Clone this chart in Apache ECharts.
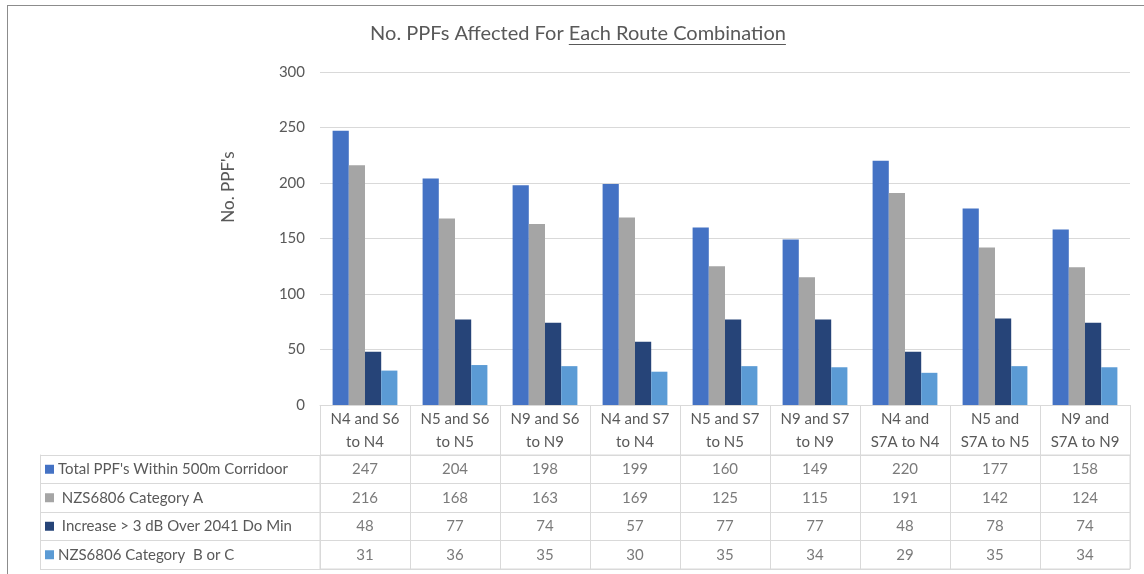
<!DOCTYPE html>
<html>
<head>
<meta charset="utf-8">
<script src="https://cdn.jsdelivr.net/npm/echarts@6/dist/echarts.min.js"></script>
<style>
  html, body { margin: 0; padding: 0; background: #fff; }
  #wrap { position: relative; width: 1144px; height: 574px; overflow: hidden; }
  #chart { width: 1144px; height: 574px; }
  #frame { position: absolute; left: 7px; top: 5px; width: 1150px; height: 600px;
           border-top: 1px solid #8c8c8c; border-left: 1px solid #8c8c8c; pointer-events: none; }
</style>
</head>
<body>
<div id="wrap"><div id="chart"></div><div id="frame"></div></div>
<script>
// Route combinations (header row of the data table)
const categories = [
  'N4 and S6\nto N4', 'N5 and S6\nto N5', 'N9 and S6\nto N9',
  'N4 and S7\nto N4', 'N5 and S7\nto N5', 'N9 and S7\nto N9',
  'N4 and\nS7A to N4', 'N5 and\nS7A to N5', 'N9 and\nS7A to N9'
];
const seriesNames = [
  "Total PPF's Within 500m Corridoor",
  ' NZS6806 Category A',
  ' Increase > 3 dB Over 2041 Do Min',
  'NZS6806 Category  B or C'
];
const totalWithin500m = [247, 204, 198, 199, 160, 149, 220, 177, 158];
const categoryA       = [216, 168, 163, 169, 125, 115, 191, 142, 124];
const increaseOver3dB = [48, 77, 74, 57, 77, 77, 48, 78, 74];
const categoryBorC    = [31, 36, 35, 30, 35, 34, 29, 35, 34];
const yMin = 0, yMax = 300, yStep = 50;
const titleLead = 'No. PPFs Affected For ';
const titleUnderlined = 'Each Route Combination';
const yAxisTitle = "No. PPF's";

const seriesValues = [totalWithin500m, categoryA, increaseOver3dB, categoryBorC];
const colors = ['#4472C4', '#A5A5A5', '#264478', '#5B9BD5'];
const FONT = 'Lato, "Open Sans", sans-serif';
const TXT = '#595959';
const LINE = '#D9D9D9';
const TITLE_FONT = '20px Lato';

// Table cells: one invisible point per (route, row) carrying its value as a label
const cellData = [];
seriesValues.forEach((vals, r) => vals.forEach((v, c) => cellData.push([c, r, v])));

// Title width, for the underline under the second half
const ctx = document.createElement('canvas').getContext('2d');
ctx.font = TITLE_FONT;
const leadW = ctx.measureText(titleLead).width;
const fullW = ctx.measureText(titleLead + titleUnderlined).width;
const titleCx = 578, titleCy = 34;
const titleX0 = titleCx - fullW / 2;

const chart = echarts.init(document.getElementById('chart'), null, { renderer: 'canvas' });

const rich = { t: { fontSize: 15, color: TXT, fontFamily: FONT, padding: [0, 0, 0, 4] } };
colors.forEach((c, i) => { rich['m' + i] = { width: 9, height: 9, backgroundColor: c }; });

chart.setOption({
  animation: false,
  backgroundColor: '#fff',
  textStyle: { fontFamily: FONT },
  graphic: [
    { type: 'text', x: titleCx, y: titleCy,
      style: { text: titleLead + titleUnderlined, font: TITLE_FONT, fill: TXT,
               align: 'center', verticalAlign: 'middle' } },
    { type: 'line', shape: { x1: titleX0 + leadW, y1: titleCy + 10.5, x2: titleX0 + fullW, y2: titleCy + 10.5 },
      style: { stroke: TXT, lineWidth: 1 } },
    { type: 'text', x: 229, y: 187, rotation: Math.PI / 2,
      style: { text: yAxisTitle, font: '17px Lato', fill: TXT, align: 'center', verticalAlign: 'middle' } }
  ],
  grid: [
    { left: 320, right: 14, top: 72, height: 333, containLabel: false },
    { left: 320, right: 14, top: 455, height: 114, show: true, borderColor: LINE, borderWidth: 1 }
  ],
  xAxis: [
    { type: 'category', gridIndex: 0, data: categories,
      axisLine: { show: true, lineStyle: { color: LINE } },
      axisTick: { show: true, interval: 0, length: 50, lineStyle: { color: LINE } },
      axisLabel: { interval: 0, margin: 3, fontSize: 15, lineHeight: 23, color: TXT, fontFamily: FONT } },
    { type: 'category', gridIndex: 1, data: categories,
      axisLine: { show: false }, axisTick: { show: false }, axisLabel: { show: false },
      splitLine: { show: true, interval: 0, lineStyle: { color: LINE } } }
  ],
  yAxis: [
    { type: 'value', gridIndex: 0, min: yMin, max: yMax, interval: yStep,
      axisLine: { show: false }, axisTick: { show: false },
      splitLine: { show: true, lineStyle: { color: LINE } },
      axisLabel: { margin: 15, fontSize: 15, color: TXT, fontFamily: FONT } },
    { type: 'category', gridIndex: 1, data: seriesNames, inverse: true,
      axisLine: { show: true, lineStyle: { color: LINE } },
      axisTick: { show: true, length: 280, lineStyle: { color: LINE } },
      splitLine: { show: true, lineStyle: { color: LINE } },
      axisLabel: { align: 'left', margin: 275, formatter: (v, i) => `{m${i}|}{t|${v}}`, rich } },
    { type: 'category', gridIndex: 1, data: seriesNames, inverse: true, position: 'left', offset: 280,
      axisLine: { show: true, lineStyle: { color: LINE } },
      axisTick: { show: false }, axisLabel: { show: false }, splitLine: { show: false } }
  ],
  series: [
    ...seriesValues.map((vals, i) => ({
      name: seriesNames[i], type: 'bar', xAxisIndex: 0, yAxisIndex: 0,
      data: vals, barGap: '0%', barCategoryGap: '28%',
      itemStyle: { color: colors[i] }
    })),
    { type: 'scatter', xAxisIndex: 1, yAxisIndex: 1, data: cellData,
      encode: { x: 0, y: 1 },
      symbolSize: 1, itemStyle: { color: 'rgba(0,0,0,0)' }, silent: true, z: 5,
      label: { show: true, position: 'inside', formatter: p => String(p.value[2]),
               fontSize: 15, color: TXT, fontFamily: FONT } }
  ]
});
</script>
</body>
</html>
